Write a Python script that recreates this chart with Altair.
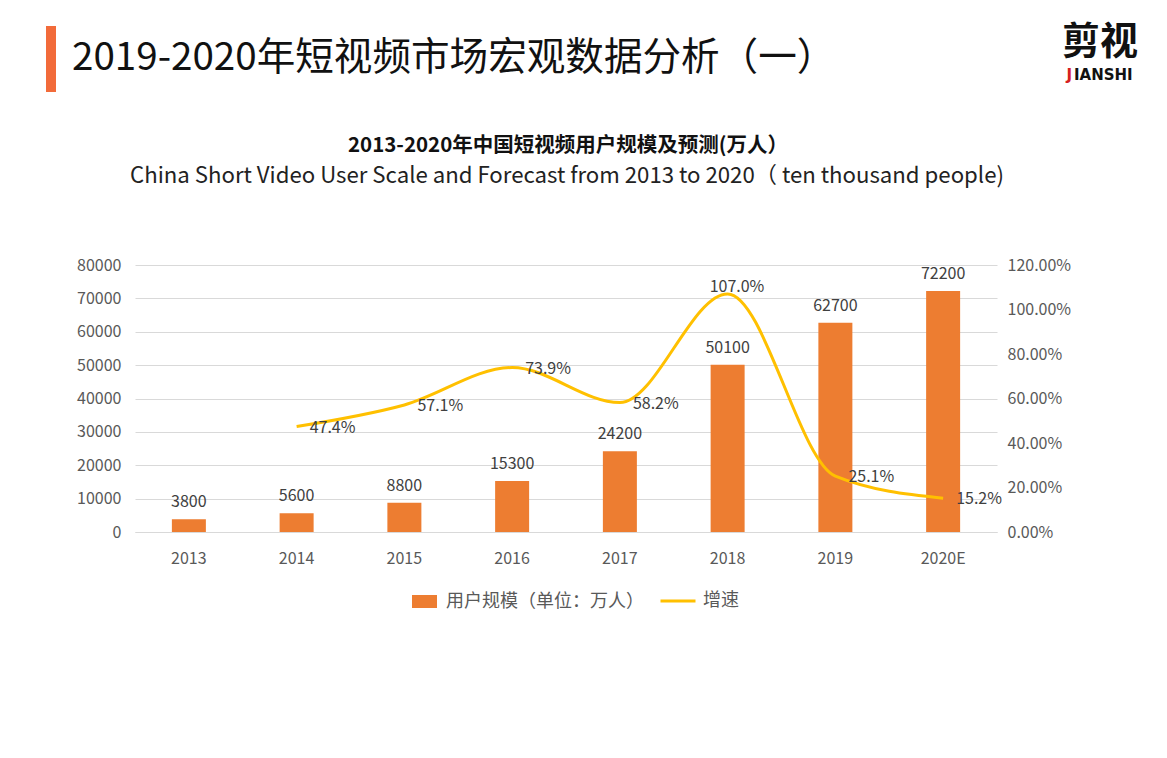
import altair as alt
import pandas as pd

years = ["2013", "2014", "2015", "2016", "2017", "2018", "2019", "2020E"]
users = [3800, 5600, 8800, 15300, 24200, 50100, 62700, 72200]
growth = [None, 0.474, 0.571, 0.739, 0.582, 1.070, 0.251, 0.152]
bar_series = "用户规模（单位：万人）"
line_series = "增速"
header = "2019-2020年短视频市场宏观数据分析（一）"
chart_title = "2013-2020年中国短视频用户规模及预测(万人）"
chart_subtitle = "China Short Video User Scale and Forecast from 2013 to 2020（ ten thousand people)"

df = pd.DataFrame({"year": years, "users": users, "growth": growth})
df["s1"] = bar_series
df["s2"] = line_series

CJK = "Noto Sans CJK SC"
ORANGE = "#ED7D31"
GOLD = "#FFC000"
GRAY = "#595959"
DARK = "#404040"

xenc = alt.X("year:N", sort=years, title=None,
             scale=alt.Scale(paddingInner=0, paddingOuter=0),
             axis=alt.Axis(labelAngle=0, ticks=False, domain=True, domainColor="#d9d9d9",
                           labelFont=CJK, labelFontSize=16, labelColor=GRAY, labelPadding=18))

yL = alt.Y("users:Q", title=None,
           scale=alt.Scale(domain=[0, 80000]),
           axis=alt.Axis(values=list(range(0, 80001, 10000)), grid=True, gridColor="#d9d9d9",
                         domain=False, ticks=False, labelFont=CJK, labelFontSize=16,
                         labelColor=GRAY, labelPadding=14, format="d"))

yR = alt.Y("growth:Q", title=None,
           scale=alt.Scale(domain=[0, 1.2]),
           axis=alt.Axis(orient="right", values=[0, 0.2, 0.4, 0.6, 0.8, 1.0, 1.2], grid=False,
                         domain=False, ticks=False, labelFont=CJK, labelFontSize=16,
                         labelColor=GRAY, labelPadding=10, format=".2%"))

base = alt.Chart(df)

bars = base.mark_bar(size=34, color=ORANGE).encode(
    x=xenc, y=yL,
    color=alt.Color("s1:N", scale=alt.Scale(domain=[bar_series], range=[ORANGE]),
                    legend=alt.Legend(title=None, orient="none", legendX=277, legendY=324,
                                      symbolType="M-1,-0.52H1V0.52H-1Z", symbolSize=625,
                                      symbolStrokeWidth=0, symbolOpacity=1, labelLimit=400,
                                      labelFont=CJK, labelFontSize=18, labelColor=GRAY,
                                      labelOffset=9)))

bar_labels = base.mark_text(baseline="bottom", dy=-9, font=CJK, fontSize=16, color=DARK).encode(
    x=xenc, y=yL, text=alt.Text("users:Q", format="d"))

gdf = base.transform_filter("datum.growth != null")

line = gdf.mark_line(interpolate="monotone", strokeWidth=3, color=GOLD).encode(
    x=xenc, y=yR,
    stroke=alt.Stroke("s2:N", scale=alt.Scale(domain=[line_series], range=[GOLD]),
                      legend=alt.Legend(title=None, orient="none", legendX=524, legendY=317,
                                        symbolType="stroke", symbolSize=1225, symbolStrokeWidth=3,
                                        labelFont=CJK, labelFontSize=18, labelColor=GRAY,
                                        labelOffset=6)))

line_labels = gdf.transform_filter("datum.year != '2018'").mark_text(
    align="left", baseline="middle", dx=13, dy=1, font=CJK, fontSize=16, color=DARK).encode(
    x=xenc, y=yR, text=alt.Text("growth:Q", format=".1%"))

peak_label = gdf.transform_filter("datum.year == '2018'").mark_text(
    align="left", baseline="middle", dx=-18, dy=-7, font=CJK, fontSize=16, color=DARK).encode(
    x=xenc, y=yR, text=alt.Text("growth:Q", format=".1%"))

one = pd.DataFrame({"a": [0]})
hdr_bar = alt.Chart(one).mark_rect(color="#F26B3A").encode(
    x=alt.value(-89), x2=alt.value(-79), y=alt.value(-239), y2=alt.value(-173))
hdr_text = alt.Chart(one).mark_text(align="left", baseline="middle", font=CJK, fontSize=38.6,
                                    color="#111111").encode(
    x=alt.value(-63), y=alt.value(-207), text=alt.value(header))
title1 = alt.Chart(one).mark_text(align="center", baseline="middle", font=CJK, fontSize=20.5,
                                  fontWeight="bold", color="#111111").encode(
    x=alt.value(433), y=alt.value(-119), text=alt.value(chart_title))
title2 = alt.Chart(one).mark_text(align="center", baseline="middle", font=CJK, fontSize=22.2,
                                  color="#222222").encode(
    x=alt.value(432), y=alt.value(-89), text=alt.value(chart_subtitle))
logo1 = alt.Chart(one).mark_text(align="center", baseline="middle", font=CJK, fontSize=38,
                                 fontWeight="bold", color="#111111").encode(
    x=alt.value(965), y=alt.value(-222), text=alt.value("剪视"))
logo2 = alt.Chart(one).mark_text(align="left", baseline="middle", font="DejaVu Sans", fontSize=15,
                                 fontWeight="bold", color="#111111").encode(
    x=alt.value(939), y=alt.value(-190), text=alt.value("IANSHI"))
logo3 = alt.Chart(one).mark_text(align="right", baseline="middle", font="DejaVu Sans", fontSize=15,
                                 fontWeight="bold", color="#D62020").encode(
    x=alt.value(937), y=alt.value(-190), text=alt.value("J"))

left = alt.layer(bars, bar_labels)
right = alt.layer(line, line_labels, peak_label)
deco = alt.layer(hdr_bar, hdr_text, title1, title2, logo1, logo2, logo3)

chart = alt.layer(left, right, deco).resolve_scale(
    y="independent", color="independent", stroke="independent").properties(
    width=862, height=267,
    autosize=alt.AutoSizeParams(type="none"),
    padding={"left": 127, "top": 257, "right": 160, "bottom": 200},
).configure_view(stroke=None)

chart.save("out.html", embed_options={"renderer": "svg", "actions": False})
